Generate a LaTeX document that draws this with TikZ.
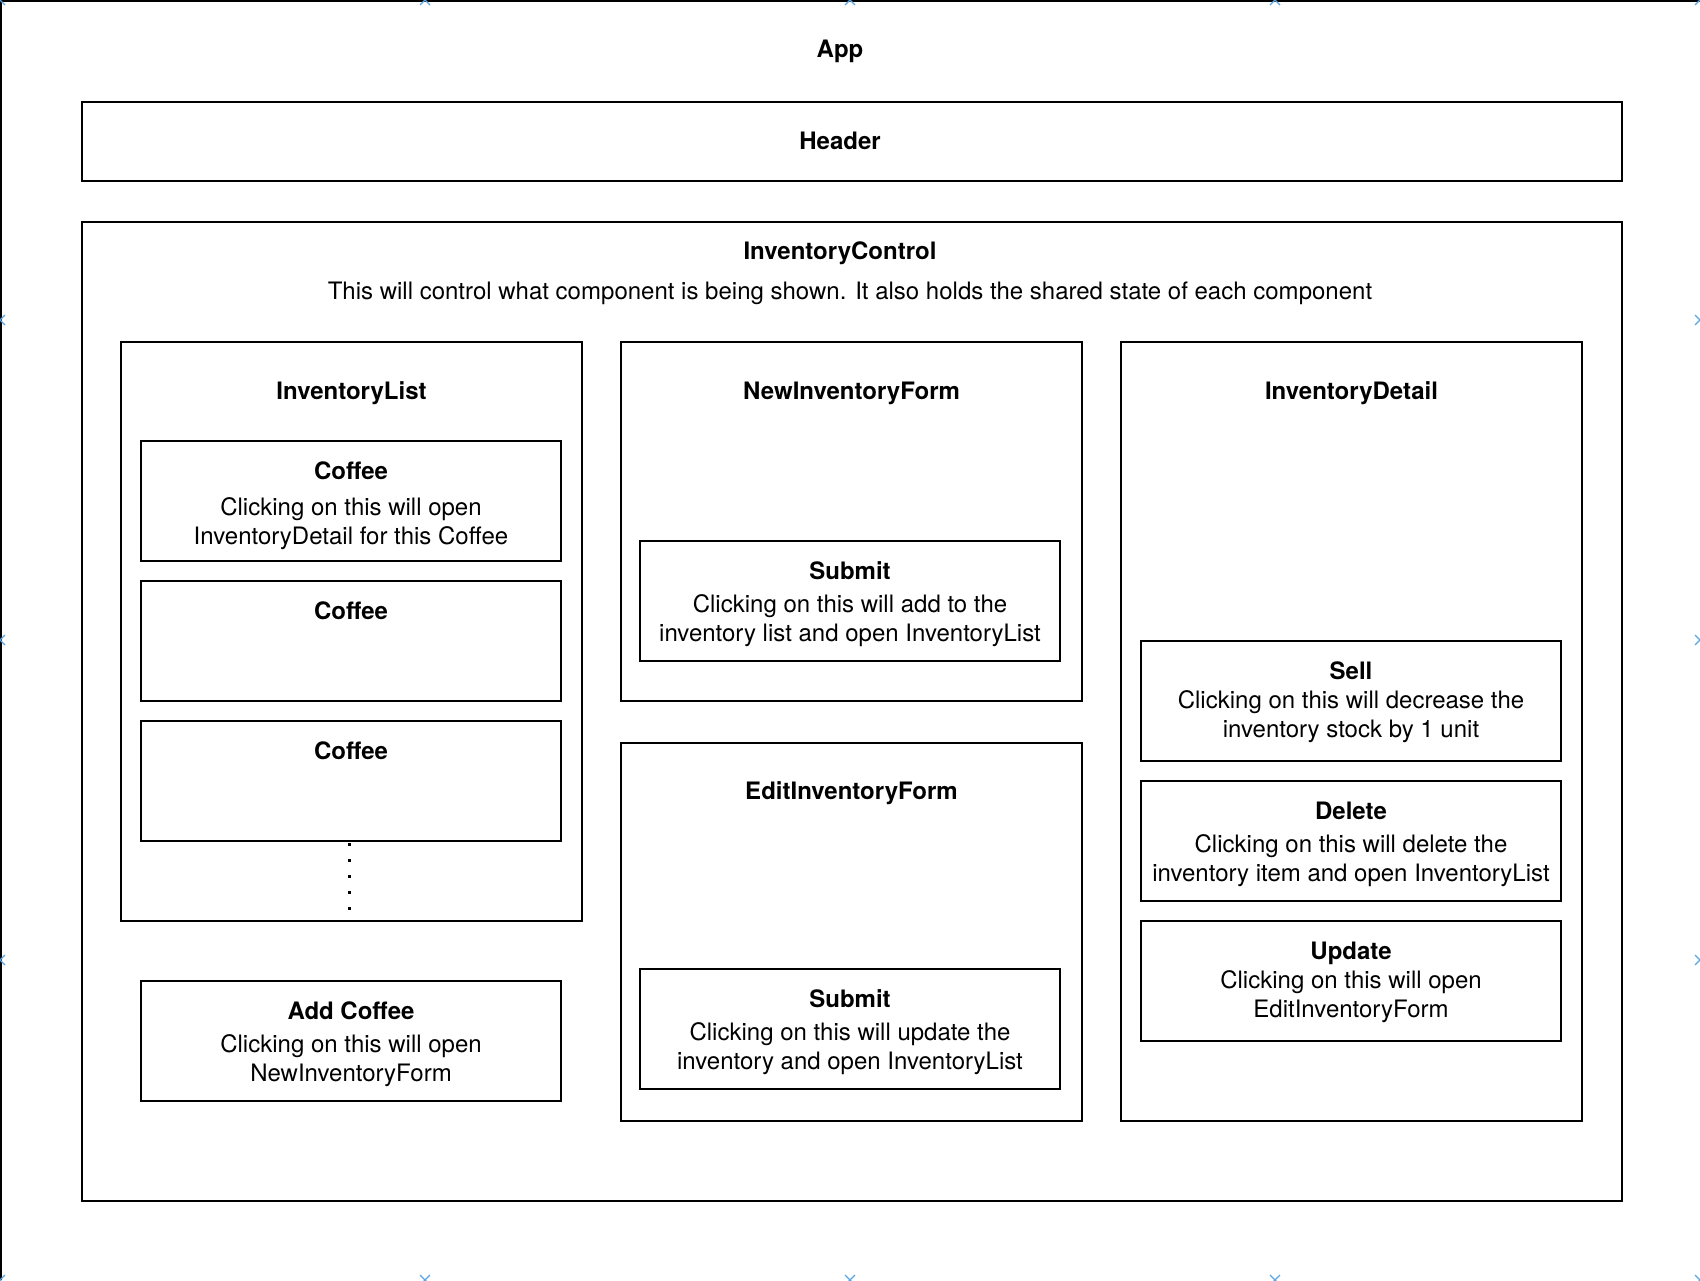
\documentclass[tikz,border=0pt]{standalone}
\usepackage{fontspec}
\setmainfont{TeX Gyre Heros}
\usepackage{tikz}
\usetikzlibrary{positioning,calc}

\definecolor{handleblue}{RGB}{90,165,230}

\begin{document}
\begin{tikzpicture}[x=1pt,y=-1pt,line width=2pt,
  font=\fontsize{24}{29}\selectfont,
  panel/.style={draw,anchor=north west,inner sep=0pt},
  itembox/.style={draw,minimum width=420pt,minimum height=120pt,inner sep=0pt},
  itemtext/.style={inner sep=0pt,align=center},
  heading/.style={inner sep=0pt,font=\fontsize{24}{29}\selectfont\bfseries},
  handle/.style={draw=handleblue,line width=1.2pt}]
\useasboundingbox (0,0) rectangle (1700,1280);
% App outline (right and bottom edges lie outside the picture)
\draw (1,1280) -- (1,1) -- (1700,1);
\foreach \hx in {0,425,850,1275,1700} {
  \draw[handle] (\hx-5,-5) -- (\hx+5,5) (\hx-5,5) -- (\hx+5,-5);
  \draw[handle] (\hx-5,1275) -- (\hx+5,1285) (\hx-5,1285) -- (\hx+5,1275);
}
\foreach \hy in {320,640,960} {
  \draw[handle] (-5,\hy-5) -- (5,\hy+5) (-5,\hy+5) -- (5,\hy-5);
  \draw[handle] (1695,\hy-5) -- (1705,\hy+5) (1695,\hy+5) -- (1705,\hy-5);
}
\node[heading] (app) at (840,51) {App};

\node[panel,minimum width=1540pt,minimum height=79pt] (header) at (81,101) {};
\node[heading] at (840,141) {Header};

\node[panel,minimum width=1540pt,minimum height=979pt] (control) at (81,221) {};
\node[heading] (controltitle) at (840,253) {InventoryControl};
\node[inner sep=0pt] (controltext) at ($(controltitle.center)+(10,40)$) {This will control what component is being shown. It also holds the shared state of each component};

% InventoryList column
\node[panel,minimum width=461pt,minimum height=579pt] (list) at (120,341) {};
\node[heading] at ($(list.north)+(0,52)$) {InventoryList};
\node[itembox] (coffeeA) at (351,501) {};
\node[itemtext] at ($(coffeeA.center)+(0,5)$) {\textbf{Coffee}\\[7pt]Clicking on this will open\\InventoryDetail for this Coffee};
\node[itembox] (coffeeB) at (351,641) {};
\node[heading] at ($(coffeeB.north)+(0,31)$) {Coffee};
\node[itembox] (coffeeC) at (351,781) {};
\node[heading] at ($(coffeeC.north)+(0,31)$) {Coffee};
\coordinate (dotsend) at ($(coffeeC.south)+(-2,68)$);
\draw[line width=3pt,dash pattern=on 3pt off 13pt] ($(coffeeC.south)+(-2,1)$) -- (dotsend);
\node[itembox] (addcoffee) at (351,1041) {};
\node[itemtext] at ($(addcoffee.center)+(0,3)$) {\textbf{Add Coffee}\\[4pt]Clicking on this will open\\NewInventoryForm};

% NewInventoryForm
\node[panel,minimum width=461pt,minimum height=359pt] (newform) at (620,341) {};
\node[heading] at ($(newform.north)+(0,52)$) {NewInventoryForm};
\node[itembox] (newsubmit) at (850,601) {};
\node[itemtext] at ($(newsubmit.center)+(0,3)$) {\textbf{Submit}\\[4pt]Clicking on this will add to the\\inventory list and open InventoryList};

% EditInventoryForm
\node[panel,minimum width=461pt,minimum height=378pt] (editform) at (620,742) {};
\node[heading] at ($(editform.north)+(0,51)$) {EditInventoryForm};
\node[itembox] (editsubmit) at (850,1029) {};
\node[itemtext] at ($(editsubmit.center)+(0,3)$) {\textbf{Submit}\\[4pt]Clicking on this will update the\\inventory and open InventoryList};

% InventoryDetail
\node[panel,minimum width=461pt,minimum height=779pt] (detail) at (1120,341) {};
\node[heading] at ($(detail.north)+(0,52)$) {InventoryDetail};
\node[itembox] (sell) at (1351,701) {};
\node[itemtext] at ($(sell.center)+(0,1.5)$) {\textbf{Sell}\\Clicking on this will decrease the\\inventory stock by 1 unit};
\node[itembox] (delete) at (1351,841) {};
\node[itemtext] at ($(delete.center)+(0,3)$) {\textbf{Delete}\\[4pt]Clicking on this will delete the\\inventory item and open InventoryList};
\node[itembox] (update) at (1351,981) {};
\node[itemtext] at ($(update.center)+(0,1.5)$) {\textbf{Update}\\Clicking on this will open\\EditInventoryForm};
\end{tikzpicture}
\end{document}
